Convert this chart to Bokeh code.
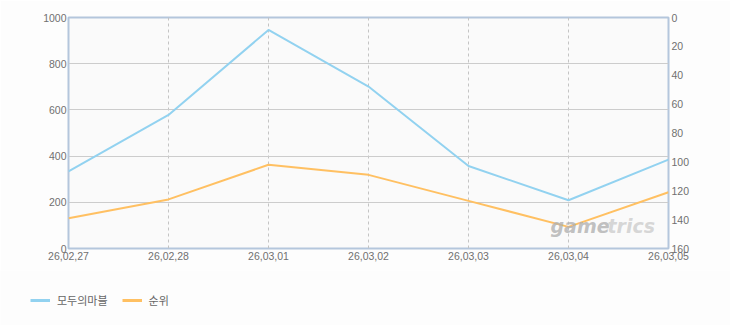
from bokeh.plotting import figure
from bokeh.layouts import column
from bokeh.models import (Range1d, LinearAxis, FixedTicker, Legend, LegendItem, Label)
from bokeh.embed import file_html
from bokeh.resources import INLINE

dates = ["26.02.27", "26.02.28", "26.03.01", "26.03.02", "26.03.03", "26.03.04", "26.03.05"]
date_labels = ["26,02,27", "26,02,28", "26,03,01", "26,03,02", "26,03,03", "26,03,04", "26,03,05"]
users = [334, 578, 946, 701, 357, 209, 385]
rank = [139, 126, 102, 109, 127, 145, 121]
left_ticks = [0, 200, 400, 600, 800, 1000]
right_ticks = [0, 20, 40, 60, 80, 100, 120, 140, 160]
series_names = ["모두의마블", "순위"]
series_colors = ["#92d2f0", "#ffc062"]

xs = list(range(len(dates)))

FONT = "Liberation Sans"
LBL = "#707070"
BG = "#fdfdfd"

p = figure(width=730, height=270, output_backend="svg", toolbar_location=None,
           x_range=Range1d(0, len(dates) - 1), y_range=Range1d(0, 1000),
           min_border_left=68, min_border_right=62, min_border_top=17, min_border_bottom=22)
p.extra_y_ranges = {"rank": Range1d(160, 0)}

p.background_fill_color = "#fafafa"
p.border_fill_color = BG
p.outline_line_color = "#b4c6dc"
p.outline_line_width = 2

# axes
p.xaxis.ticker = FixedTicker(ticks=xs)
p.xaxis.major_label_overrides = {i: d for i, d in enumerate(date_labels)}
p.yaxis.ticker = FixedTicker(ticks=left_ticks)
for ax in [p.xaxis[0], p.yaxis[0]]:
    ax.axis_line_color = None
    ax.major_tick_line_color = None
    ax.minor_tick_line_color = None
    ax.major_tick_out = 0
    ax.major_tick_in = 0
    ax.major_label_text_font = FONT
    ax.major_label_text_font_size = "10.5px"
    ax.major_label_text_color = LBL
p.yaxis.major_label_standoff = 2
p.xaxis.major_label_standoff = 3

ra = LinearAxis(y_range_name="rank", ticker=FixedTicker(ticks=right_ticks))
ra.axis_line_color = None
ra.major_tick_line_color = None
ra.minor_tick_line_color = None
ra.major_tick_out = 0
ra.major_tick_in = 0
ra.major_label_text_font = FONT
ra.major_label_text_font_size = "10.5px"
ra.major_label_text_color = LBL
ra.major_label_standoff = 3
p.add_layout(ra, "right")

# grids
p.ygrid.ticker = FixedTicker(ticks=left_ticks)
p.ygrid.grid_line_color = "#cccccc"
p.ygrid.grid_line_width = 1
p.xgrid.ticker = FixedTicker(ticks=xs)
p.xgrid.grid_line_color = "#c4c4c4"
p.xgrid.grid_line_dash = "3 3"

# watermark
p.add_layout(Label(x=482, y=12, x_units="screen", y_units="screen", text="game",
                   text_font="DejaVu Sans", text_font_size="19px", text_font_style="bold italic",
                   text_color="#b0b0b0", text_alpha=0.8))
p.add_layout(Label(x=539, y=12, x_units="screen", y_units="screen", text="trics",
                   text_font="DejaVu Sans", text_font_size="19px", text_font_style="bold italic",
                   text_color="#cccccc", text_alpha=0.8))

p.line(xs, users, line_color=series_colors[0], line_width=2)
p.line(xs, rank, y_range_name="rank", line_color=series_colors[1], line_width=2)

# legend strip (series drawn out of view so only the legend shows)
lg = figure(width=730, height=55, output_backend="svg", toolbar_location=None,
            x_axis_type=None, y_axis_type=None, min_border=0,
            x_range=Range1d(5000, 5001), y_range=Range1d(5000, 5001))
if "frame_align" in lg.properties():
    lg.frame_align = False
lg.outline_line_color = None
lg.background_fill_color = BG
lg.border_fill_color = BG
lg.xgrid.visible = False
lg.ygrid.visible = False
r1 = lg.line(xs, users, line_color=series_colors[0], line_width=3)
r2 = lg.line(xs, rank, line_color=series_colors[1], line_width=3)
legend = Legend(items=[LegendItem(label=series_names[0], renderers=[r1]),
                       LegendItem(label=series_names[1], renderers=[r2])],
                orientation="horizontal", location=(30, 15),
                padding=0, margin=0, spacing=14, label_standoff=7,
                glyph_width=20, glyph_height=20,
                border_line_color=None, background_fill_alpha=0,
                label_text_font="Noto Sans CJK KR", label_text_font_size="11px",
                label_text_color="#666666")
lg.add_layout(legend, "center")

layout = column(p, lg, spacing=0)
open("out.html", "w").write(file_html(layout, INLINE))
